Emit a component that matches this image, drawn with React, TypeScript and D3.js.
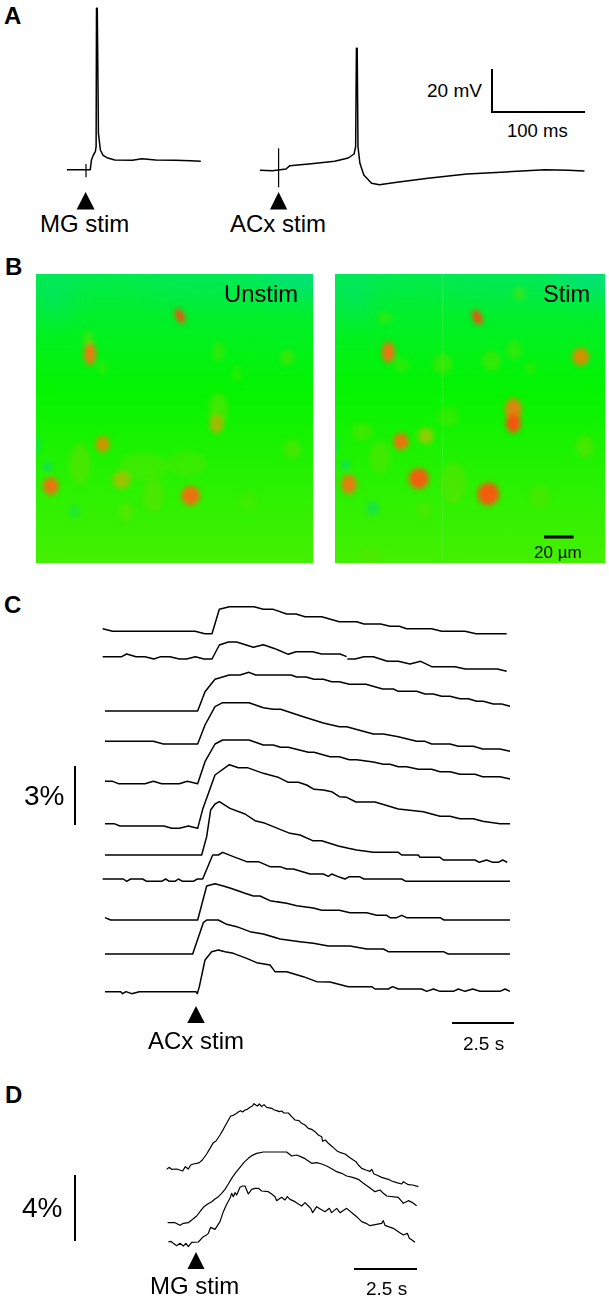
import React from "react";
import * as d3 from "d3";

type P = [number, number];
// Blob: cx, cy, rx, ry, intensity (0..1), tilt in degrees
type Blob = [number, number, number, number, number, number?];

// ---------- Panel A membrane potential (read-out units) ----------
const traceMG: P[] = [[172,509],[225,509],[232,509],[235,480],[240,465],[245,455],[247,440],[248,25],[250,25],[253,400],[258,450],[265,466],[275,473],[295,480],[340,481],[365,476],[400,480],[450,481],[490,482],[516,484]];
const traceACx: P[] = [[668,511],[700,512],[735,507],[745,497],[800,491],[860,484],[895,474],[910,462],[914,440],[916,145],[918,145],[920,440],[925,490],[935,525],[955,550],[975,554],[1020,547],[1100,535],[1200,522],[1300,516],[1400,509],[1460,511],[1502,513]];
const artifactMG: P[] = [[221,492],[221,532]];
const artifactACx: P[] = [[716,445],[716,562]];

// ---------- Panel C calcium traces ----------
const c1: P[] = [[38,116],[68,124],[315,124],[345,131],[366,131],[388,58],[418,50],[492,50],[520,58],[550,58],[590,72],[618,72],[645,80],[695,80],[748,95],[800,95],[822,102],[872,102],[900,109],[928,109],[950,116],[1025,116],[1055,124],[1125,124],[1158,131],[1250,131]];
const c2a: P[] = [[38,200],[95,200],[110,192],[138,200],[165,200],[192,207],[212,200],[240,200],[268,207],[290,207],[316,200],[342,207],[366,207],[388,165],[415,156],[440,156],[490,172],[520,164],[555,176],[595,193],[618,185],[668,185],[695,192],[750,192],[770,200]];
const c2b: P[] = [[772,207],[795,207],[822,200],[850,200],[892,214],[925,214],[960,222],[992,214],[1025,230],[1095,230],[1125,237],[1222,237],[1250,244]];
const c3: P[] = [[45,363],[323,363],[345,305],[375,268],[418,255],[450,255],[477,247],[497,255],[603,255],[620,261],[648,261],[672,268],[700,268],[725,275],[748,275],[778,283],[828,283],[878,297],[910,297],[925,304],[980,304],[1005,312],[1030,312],[1055,319],[1080,319],[1110,326],[1135,326],[1160,334],[1180,334],[1210,342],[1235,342],[1260,349]];
const c4: P[] = [[45,454],[190,454],[220,462],[323,462],[345,405],[375,350],[398,338],[477,338],[520,353],[550,358],[572,358],[640,380],[700,399],[748,410],[770,410],[850,432],[880,432],[925,440],[980,454],[1005,454],[1025,462],[1080,462],[1105,469],[1150,469],[1178,477],[1230,477],[1260,484]];
const c5: P[] = [[45,574],[68,574],[85,581],[165,581],[190,574],[215,581],[268,581],[292,574],[323,581],[345,515],[375,462],[398,450],[477,450],[520,465],[550,465],[572,472],[595,472],[655,487],[672,487],[720,500],[748,500],[778,509],[800,509],[850,516],[880,523],[900,523],[925,530],[950,530],[985,538],[1025,538],[1050,545],[1080,545],[1110,553],[1155,553],[1178,560],[1230,560],[1260,567]];
const c6: P[] = [[45,701],[72,701],[90,708],[222,708],[245,715],[268,715],[295,708],[323,715],[338,658],[375,555],[418,524],[445,533],[472,533],[520,550],[565,562],[595,577],[625,577],[650,585],[672,598],[700,600],[725,605],[748,620],[770,622],[798,636],[855,636],[925,657],[1000,665],[1050,679],[1080,679],[1110,686],[1150,686],[1178,694],[1230,701],[1260,701]];
const c7: P[] = [[45,795],[335,795],[350,740],[362,660],[375,642],[388,635],[420,655],[465,672],[495,692],[520,698],[570,718],[600,730],[630,735],[668,752],[695,752],[745,768],[775,775],[800,780],[850,787],[925,787],[935,795],[985,795],[990,802],[1050,802],[1060,810],[1155,810],[1168,817],[1190,810],[1208,817],[1225,817],[1238,810],[1252,817]];
const c8: P[] = [[38,867],[100,867],[110,874],[122,867],[158,867],[170,874],[215,874],[227,867],[238,874],[255,874],[265,867],[278,874],[310,874],[322,867],[338,867],[368,795],[385,795],[398,787],[430,800],[470,815],[505,815],[540,830],[570,830],[590,837],[610,837],[660,852],[700,852],[715,859],[725,852],[750,862],[765,867],[778,860],[808,860],[822,867],[935,867],[948,874],[1260,874]];
const c9: P[] = [[45,983],[62,990],[323,990],[350,888],[375,881],[400,888],[422,895],[465,910],[490,918],[510,918],[540,932],[590,940],[620,947],[670,954],[695,961],[748,961],[780,968],[830,968],[860,976],[890,976],[900,983],[920,983],[935,976],[950,983],[1050,983],[1062,990],[1260,990]];
const c10: P[] = [[45,1092],[308,1092],[340,998],[350,990],[385,990],[410,1003],[440,1010],[480,1025],[520,1032],[570,1047],[630,1055],[670,1060],[715,1068],[780,1068],[830,1077],[880,1077],[895,1085],[1060,1085],[1075,1092],[1260,1092]];
const c11: P[] = [[45,1205],[92,1205],[98,1211],[108,1205],[125,1211],[148,1205],[318,1205],[322,1211],[328,1190],[345,1110],[365,1085],[385,1080],[405,1085],[430,1090],[470,1105],[500,1118],[540,1125],[555,1145],[590,1145],[640,1160],[680,1175],[720,1176],[775,1190],[845,1190],[855,1197],[895,1197],[908,1190],[925,1197],[995,1197],[1010,1204],[1030,1197],[1050,1204],[1090,1204],[1105,1197],[1125,1204],[1148,1197],[1170,1204],[1230,1204],[1245,1197],[1260,1204]];
const panelCTraces = [c1, c2a, c2b, c3, c4, c5, c6, c7, c8, c9, c10, c11];

// ---------- Panel D traces ----------
const d1: P[] = [[500,268],[507,262],[515,268],[530,267],[548,273],[556,260],[565,267],[572,255],[580,252],[590,250],[598,248],[607,240],[620,222],[630,205],[640,188],[648,183],[660,165],[670,148],[680,130],[692,108],[700,106],[710,100],[716,95],[722,92],[728,96],[735,90],[742,88],[750,82],[757,78],[762,71],[768,76],[772,78],[778,72],[785,80],[792,74],[800,82],[815,85],[823,90],[830,92],[838,95],[845,93],[852,99],[865,99],[875,110],[885,120],[897,122],[905,130],[915,135],[925,145],[935,148],[945,155],[955,165],[965,170],[968,184],[976,180],[985,190],[997,200],[1010,212],[1022,218],[1035,222],[1048,232],[1060,240],[1068,245],[1075,255],[1085,265],[1098,270],[1110,274],[1115,268],[1122,282],[1130,285],[1145,292],[1165,298],[1175,303],[1190,308],[1205,312],[1210,305],[1225,314],[1238,315],[1255,320]];
const d2: P[] = [[503,428],[525,428],[540,436],[550,430],[565,428],[578,418],[590,408],[600,395],[610,382],[622,373],[635,365],[645,357],[655,350],[665,340],[675,328],[685,312],[695,295],[707,278],[720,262],[732,247],[745,235],[757,226],[770,220],[790,216],[860,216],[875,228],[890,225],[902,230],[915,236],[925,243],[935,250],[950,248],[965,252],[980,258],[995,266],[1010,275],[1025,280],[1040,288],[1058,292],[1075,298],[1090,310],[1105,320],[1125,335],[1140,330],[1150,340],[1160,348],[1195,352],[1210,370],[1225,362],[1238,368],[1250,377]];
const d3t: P[] = [[505,486],[512,484],[520,490],[530,497],[540,490],[550,498],[558,490],[565,500],[575,487],[595,486],[610,470],[618,466],[625,460],[632,442],[645,448],[660,425],[670,395],[680,373],[690,355],[695,340],[700,350],[705,338],[710,345],[720,322],[728,318],[735,318],[745,342],[755,328],[765,325],[775,325],[785,333],[805,335],[815,342],[825,350],[830,362],[838,356],[845,352],[855,360],[862,350],[870,358],[885,365],[895,372],[905,378],[915,368],[925,378],[932,385],[938,398],[950,380],[962,388],[975,395],[988,385],[995,398],[1010,385],[1020,398],[1040,385],[1060,402],[1072,412],[1085,425],[1098,430],[1110,437],[1125,434],[1145,430],[1150,422],[1155,436],[1165,440],[1180,445],[1195,455],[1210,465],[1222,460],[1228,475],[1236,480],[1245,487]];
const panelDTraces = [d1, d2, d3t];

// ---------- Panel B cell fluorescence (read-out units) ----------
const unstimCells: Blob[] = [[540,198,10,20,0.98,-25],[270,312,15,28,0.72],[308,583,17,20,0.6],[152,708,19,22,0.78],[572,737,23,24,0.8],[650,522,17,24,0.42],[655,480,24,42,0.24],[365,690,22,22,0.38],[240,640,26,52,0.22],[378,785,18,22,0.24],[460,735,26,42,0.2],[862,323,18,20,0.2],[878,598,22,24,0.2],[655,305,14,26,0.14],[265,265,14,20,0.18],[430,650,60,35,0.14],[560,640,50,30,0.12],[745,755,22,28,0.1],[710,370,10,20,0.1],[308,355,12,16,0.1]];
const stimCells: Blob[] = [[472,202,11,20,0.98,-25],[205,307,16,26,0.78],[782,320,21,22,0.62],[580,478,21,28,0.66],[580,520,19,24,0.94],[243,575,19,21,0.78],[317,558,20,20,0.34],[127,545,26,22,0.18],[87,703,19,24,0.72],[296,686,25,26,0.88],[505,732,27,28,0.9],[598,130,16,18,0.14],[195,203,20,14,0.1],[368,342,25,25,0.18],[515,333,25,25,0.18],[582,300,18,25,0.14],[632,355,14,14,0.12],[795,590,22,28,0.24],[180,620,26,40,0.18],[400,700,32,52,0.2],[660,740,25,30,0.15],[312,780,20,20,0.16],[385,500,26,26,0.1],[245,345,18,18,0.12],[150,915,30,20,0.14]];
const unstimTeal: Blob[] = [[142,650,13,16,0.6],[222,785,18,22,0.3],[112,585,10,30,0.4]];
const stimTeal: Blob[] = [[75,645,12,16,0.6],[158,775,20,22,0.45],[50,585,8,30,0.35]];

const bgStops = [
  { at: 0, c: "#00ec50" },
  { at: 0.14, c: "#00f02c" },
  { at: 0.4, c: "#04f400" },
  { at: 0.68, c: "#24f200" },
  { at: 1, c: "#44f000" },
];

const heat = d3.scaleLinear<string>()
  .domain([0, 0.3, 0.55, 0.8, 1])
  .range(["#30f000", "#80d800", "#d09800", "#f07010", "#f84810"]);

const scaled = (origin: number, per: number) => d3.scaleLinear().domain([0, per]).range([origin, origin + 1]);

const LW = 1.5;

function Trace({ pts, x, y, w = LW }: { pts: P[]; x: any; y: any; w?: number }) {
  const line = d3.line<P>().x((d) => x(d[0])).y((d) => y(d[1]));
  return <path d={line(pts) || ""} fill="none" stroke="#000" strokeWidth={w} strokeLinejoin="round" />;
}

function Tri({ cx, top, base, half }: { cx: number; top: number; base: number; half: number }) {
  const p = d3.path();
  p.moveTo(cx, top);
  p.lineTo(cx + half, base);
  p.lineTo(cx - half, base);
  p.closePath();
  return <path d={p.toString()} fill="#000" />;
}

function Heat({ id, x0, x1, y0, y1, ox, cells, teal, seam }: { id: string; x0: number; x1: number; y0: number; y1: number; ox: number; cells: Blob[]; teal: Blob[]; seam?: number }) {
  const x = scaled(ox, 3);
  const y = scaled(250, 3);
  const k = 1 / 3;
  return (
    <g>
      <defs>
        <clipPath id={`clip-${id}`}><rect x={x0} y={y0} width={x1 - x0} height={y1 - y0} /></clipPath>
        <linearGradient id={`bg-${id}`} x1="0" y1="0" x2="0" y2="1">
          {bgStops.map((s) => <stop key={s.at} offset={s.at} stopColor={s.c} />)}
        </linearGradient>
        <filter id={`soft-${id}`} x="-100%" y="-100%" width="300%" height="300%"><feGaussianBlur stdDeviation="2.6" /></filter>
        <filter id={`wide-${id}`} x="-100%" y="-100%" width="300%" height="300%"><feGaussianBlur stdDeviation="14" /></filter>
      </defs>
      <g clipPath={`url(#clip-${id})`}>
        <rect x={x0} y={y0} width={x1 - x0} height={y1 - y0} fill={`url(#bg-${id})`} />
        <g filter={`url(#wide-${id})`}>
          <ellipse cx={x0 + 18} cy={y0 + 22} rx={14} ry={22} fill="#00d8a0" opacity={0.45} />
          <ellipse cx={x1 - 8} cy={y0 + 4} rx={46} ry={16} fill="#00d8a0" opacity={0.6} />
          <ellipse cx={(x0 + x1) / 2 + 30} cy={y0 + 8} rx={60} ry={14} fill="#00e070" opacity={0.3} />
        </g>
        {seam !== undefined && <line x1={x(seam)} x2={x(seam)} y1={y0} y2={y1} stroke="#70f060" strokeWidth={0.8} opacity={0.45} />}
        <g filter={`url(#soft-${id})`}>
          {teal.map((b, i) => (
            <ellipse key={i} cx={x(b[0])} cy={y(b[1])} rx={b[2] * k} ry={b[3] * k} fill="#00d890" opacity={b[4]} />
          ))}
          {[...cells].sort((a, b) => a[4] - b[4]).map((b, i) => (
            <ellipse key={i} cx={x(b[0])} cy={y(b[1])} rx={b[2] * k * 1.2} ry={b[3] * k * 1.2}
              fill={heat(b[4])} opacity={b[4] > 0.3 ? 1 : 0.5}
              transform={b[5] ? `rotate(${b[5]} ${x(b[0])} ${y(b[1])})` : undefined} />
          ))}
        </g>
      </g>
    </g>
  );
}

const F = "'Liberation Sans', Arial, sans-serif";
const panelLetters = [
  { t: "A", x: 4, y: 24 },
  { t: "B", x: 5, y: 275 },
  { t: "C", x: 4, y: 613 },
  { t: "D", x: 5, y: 1103 },
];

export default function App() {
  const ax = scaled(0, 2.57), ay = scaled(0, 3);
  const cx = scaled(90, 3), cy = scaled(590, 3);
  const dx = scaled(0, 3), dy = scaled(1080, 3);
  return (
    <svg width={609} height={1300} viewBox="0 0 609 1300" style={{ position: "absolute", left: 0, top: 0, background: "#fff" }} fontFamily={F}>
      {panelLetters.map((l) => (
        <text key={l.t} x={l.x} y={l.y} fontSize={24} fontWeight="bold" fontFamily={F}>{l.t}</text>
      ))}

      {/* A */}
      <Trace pts={traceMG} x={ax} y={ay} />
      <Trace pts={traceACx} x={ax} y={ay} />
      <Trace pts={artifactMG} x={ax} y={ay} w={1.2} />
      <Trace pts={artifactACx} x={ax} y={ay} w={1.2} />
      <Tri cx={85.6} top={192} base={209.5} half={9} />
      <Tri cx={278.6} top={192} base={209.5} half={8.6} />
      <text x={40} y={232} fontSize={24}>MG stim</text>
      <text x={230} y={232} fontSize={24}>ACx stim</text>
      <line x1={492} x2={492} y1={69} y2={113} stroke="#000" strokeWidth={2} />
      <line x1={491} x2={585} y1={112} y2={112} stroke="#000" strokeWidth={2} />
      <text x={427} y={97} fontSize={19}>20 mV</text>
      <text x={507} y={137} fontSize={18.5}>100 ms</text>

      {/* B */}
      <Heat id="u" x0={36} x1={313} y0={274} y1={563} ox={0} cells={unstimCells} teal={unstimTeal} />
      <Heat id="s" x0={335} x1={605} y0={274} y1={563} ox={320} cells={stimCells} teal={stimTeal} seam={368} />
      <text x={224} y={302} fontSize={23.8}>Unstim</text>
      <text x={543} y={302} fontSize={23.6}>Stim</text>
      <line x1={544} x2={573.5} y1={537} y2={537} stroke="#000" strokeWidth={3} />
      <text x={534} y={558} fontSize={17}>20 µm</text>

      {/* C */}
      {panelCTraces.map((t, i) => <Trace key={i} pts={t} x={cx} y={cy} />)}
      <line x1={75} x2={75} y1={766} y2={825} stroke="#000" strokeWidth={2} />
      <text x={24} y={805} fontSize={28}>3%</text>
      <Tri cx={196} top={1006} base={1023} half={8.7} />
      <text x={148} y={1049} fontSize={24}>ACx stim</text>
      <line x1={452} x2={514} y1={1023} y2={1023} stroke="#000" strokeWidth={2} />
      <text x={463} y={1050} fontSize={19}>2.5 s</text>

      {/* D */}
      {panelDTraces.map((t, i) => <Trace key={i} pts={t} x={dx} y={dy} w={1.2} />)}
      <line x1={75} x2={75} y1={1175} y2={1241} stroke="#000" strokeWidth={2} />
      <text x={22} y={1217} fontSize={28}>4%</text>
      <Tri cx={196} top={1252} base={1269} half={8.5} />
      <text x={150} y={1294} fontSize={24}>MG stim</text>
      <line x1={354} x2={417} y1={1269} y2={1269} stroke="#000" strokeWidth={2} />
      <text x={366} y={1295} fontSize={19}>2.5 s</text>
    </svg>
  );
}
